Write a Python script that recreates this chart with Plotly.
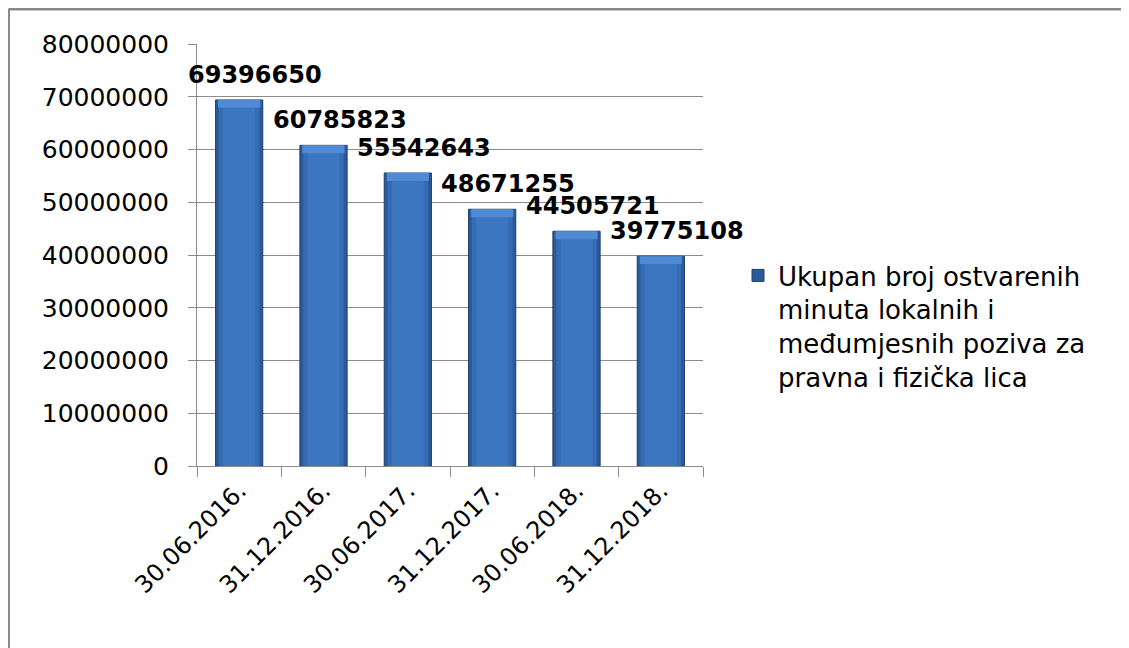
import plotly.graph_objects as go

categories = ["30.06.2016.", "31.12.2016.", "30.06.2017.", "31.12.2017.", "30.06.2018.", "31.12.2018."]
values = [69396650, 60785823, 55542643, 48671255, 44505721, 39775108]
series_name = "Ukupan broj ostvarenih<br>minuta lokalnih i<br>međumjesnih poziva za<br>pravna i fizička lica"
y_ticks = [0, 10000000, 20000000, 30000000, 40000000, 50000000, 60000000, 70000000, 80000000]

FONT = "DejaVu Sans, Verdana, sans-serif"
cap = 1500000

fig = go.Figure()
# base bar (dark edges)
fig.add_trace(go.Bar(x=categories, y=values, name=series_name, width=0.56,
                     marker=dict(color="#2b5a99", line=dict(color="#1d3f6e", width=1)),
                     showlegend=True))
# inner lighter body (simulated cylinder gradient)
fig.add_trace(go.Bar(x=categories, y=values, width=0.48, showlegend=False, hoverinfo="skip",
                     marker=dict(color="#366cb4", line=dict(width=0))))
fig.add_trace(go.Bar(x=categories, y=values, width=0.38, showlegend=False, hoverinfo="skip",
                     marker=dict(color="#3c75c0", line=dict(width=0))))
# lighter top bevel
fig.add_trace(go.Bar(x=categories, y=[cap] * len(values), base=[v - cap for v in values],
                     width=0.50, showlegend=False, hoverinfo="skip",
                     marker=dict(color="#4f8bd4", line=dict(width=0))))

for c, v in zip(categories, values):
    fig.add_annotation(x=c, y=v, text=f"<b>{v}</b>", showarrow=False,
                       xanchor="center", yanchor="bottom", xshift=16, yshift=9,
                       font=dict(family=FONT, size=24, color="#000000"))

OFF = 8  # page body margin
W, H = 1129, 648
L, R, T, B = 197 - OFF, 1129 - (703 - OFF), 44 - OFF, 648 - (466 - OFF)
pw, ph = W - L - R, H - T - B

def px(x):
    return (x - OFF - L) / pw

def py(y):
    return (H - B - (y - OFF)) / ph

# chart border (top and left visible)
fig.add_shape(type="line", xref="paper", yref="paper", x0=px(8.5), y0=py(9), x1=px(W + 20), y1=py(9),
              line=dict(color="#8a8a8a", width=3))
fig.add_shape(type="line", xref="paper", yref="paper", x0=px(8.5), y0=py(9), x1=px(8.5), y1=py(H + 20),
              line=dict(color="#8a8a8a", width=3))

fig.update_layout(
    width=W, height=H,
    margin=dict(l=L, r=R, t=T, b=B, autoexpand=False),
    paper_bgcolor="white", plot_bgcolor="white",
    barmode="overlay", bargap=0.44,
    font=dict(family=FONT, size=24, color="#000000"),
    legend=dict(x=px(738), y=py(252), xanchor="left", yanchor="top", valign="top",
                font=dict(family=FONT, size=26, color="#000000"),
                bgcolor="rgba(0,0,0,0)"),
    xaxis=dict(range=[-0.5, 5.5], showline=True, linecolor="#8c8c8c", linewidth=1,
               ticks="outside", tickson="boundaries", ticklen=10, tickcolor="#8c8c8c",
               tickangle=-45, tickfont=dict(family=FONT, size=24),
               showgrid=False),
    yaxis=dict(range=[0, 80000000], tickvals=y_ticks, ticktext=[str(t) for t in y_ticks],
               showline=True, linecolor="#8c8c8c", linewidth=1,
               ticks="outside", ticklen=8, tickcolor="#8c8c8c", ticklabelstandoff=14,
               showgrid=True, gridcolor="#8c8c8c", gridwidth=1,
               tickfont=dict(family=FONT, size=25), zeroline=False),
)

fig.write_html("out.html")
